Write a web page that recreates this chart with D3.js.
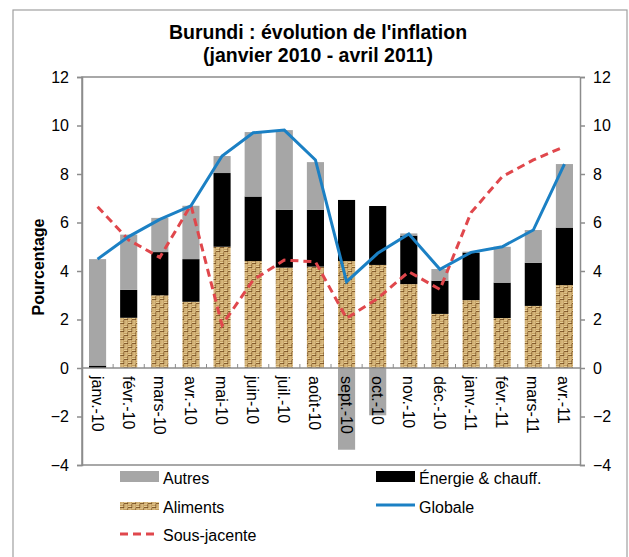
<!DOCTYPE html>
<meta charset="utf-8">
<script src="https://d3js.org/d3.v7.min.js"></script>
<style>
  body { margin: 0; background: #fff; }
  text { font-family: "Liberation Sans", Arial, sans-serif; }
</style>
<div id="chart"></div>
<script>

// data
var months = ["janv.-10", "févr.-10", "mars-10", "avr.-10", "mai-10", "juin-10", "juil.-10", "août-10",
              "sept.-10", "oct.-10", "nov.-10", "déc.-10", "janv.-11", "févr.-11", "mars-11", "avr.-11"];
var aliments = [0, 2.07, 3.0, 2.73, 5.0, 4.41, 4.14, 4.18, 4.41, 4.25, 3.46, 2.23, 2.8, 2.06, 2.56, 3.42];
var energie  = [0.1, 1.15, 1.78, 1.76, 3.04, 2.66, 2.38, 2.34, 2.52, 2.43, 2.0, 1.37, 1.96, 1.46, 1.78, 2.37];
var autres   = [4.39, 2.28, 1.41, 2.2, 0.7, 2.66, 3.29, 1.97, -3.37, -1.95, 0.09, 0.48, 0.04, 1.48, 1.35, 2.62];
var globale  = [4.49, 5.42, 6.13, 6.69, 8.74, 9.7, 9.81, 8.58, 3.56, 4.73, 5.53, 4.07, 4.77, 5.0, 5.69, 8.41];
var sousJacente = [6.65, 5.28, 4.56, 6.72, 1.77, 3.63, 4.45, 4.38, 2.05, 2.87, 3.97, 3.24, 6.41, 7.89, 8.58, 9.13];
var yTicks = [-4, -2, 0, 2, 4, 6, 8, 10, 12];

var W = 629, H = 557;
var plotL = 82, plotR = 580, plotT = 77, plotB = 465;

var svg = d3.select("#chart").append("svg")
  .attr("width", W)
  .attr("height", H);

// burlap-ish texture for "Aliments"
var defs = svg.append("defs");
var pat = defs.append("pattern")
  .attr("id", "burlap")
  .attr("patternUnits", "userSpaceOnUse")
  .attr("width", 8).attr("height", 8);
var light = "#ecd49c", dark = "#70491f";
pat.append("rect").attr("width", 8).attr("height", 8).attr("fill", "#b88e50");
[[0, 0.3, 4, 0.9], [0, 2.1, 4, 0.9], [4.6, 0, 0.9, 4], [6.4, 0, 0.9, 4],
 [4, 4.3, 4, 0.9], [4, 6.1, 4, 0.9], [0.6, 4, 0.9, 4], [2.4, 4, 0.9, 4]].forEach(function(r) {
  pat.append("rect").attr("x", r[0]).attr("y", r[1]).attr("width", r[2]).attr("height", r[3]).attr("fill", light);
});
[[0, 3.3, 4, 0.7], [4, 7.3, 4, 0.7], [3.5, 0, 0.6, 4], [7.5, 4, 0.6, 4]].forEach(function(r) {
  pat.append("rect").attr("x", r[0]).attr("y", r[1]).attr("width", r[2]).attr("height", r[3]).attr("fill", dark);
});

// outer frame
svg.append("rect")
  .attr("x", 13).attr("y", 10)
  .attr("width", 614).attr("height", 560)
  .attr("fill", "none")
  .attr("stroke", "#a0a0a0")
  .attr("stroke-width", 1.2);

// title
svg.append("text")
  .attr("x", 318).attr("y", 39)
  .attr("text-anchor", "middle")
  .attr("font-size", 19.5).attr("font-weight", "bold")
  .text("Burundi : évolution de l'inflation");
svg.append("text")
  .attr("x", 318).attr("y", 62)
  .attr("text-anchor", "middle")
  .attr("font-size", 19.5).attr("font-weight", "bold")
  .text("(janvier 2010 - avril 2011)");

var x = d3.scaleBand()
  .domain(months)
  .range([plotL, plotR])
  .paddingInner(0.45)
  .paddingOuter(0.225);

var y = d3.scaleLinear()
  .domain([-4, 12])
  .range([plotB, plotT]);

// stacked bars
var rows = months.map(function(m, i) {
  return { month: m, aliments: aliments[i], energie: energie[i], autres: autres[i] };
});
var keys = ["aliments", "energie", "autres"];
var fills = { aliments: "url(#burlap)", energie: "#000000", autres: "#a6a6a6" };
var series = d3.stack().keys(keys).offset(d3.stackOffsetDiverging)(rows);

svg.append("g").selectAll("g")
  .data(series)
  .enter().append("g")
    .attr("fill", function(s) { return fills[s.key]; })
  .selectAll("rect")
  .data(function(s) { return s; })
  .enter().append("rect")
    .attr("x", function(d) { return x(d.data.month); })
    .attr("width", x.bandwidth())
    .attr("y", function(d) { return y(Math.max(d[0], d[1])); })
    .attr("height", function(d) { return Math.abs(y(d[0]) - y(d[1])); });

// plot frame (left, top, bottom) + axes
svg.append("path")
  .attr("d", "M" + plotR + "," + plotT + "H" + plotL + "V" + plotB + "H" + plotR)
  .attr("fill", "none")
  .attr("stroke", "#8c8c8c")
  .attr("stroke-width", 1.5);

var yLeft = svg.append("g")
  .attr("transform", "translate(" + plotL + ",0)")
  .call(d3.axisLeft(y).tickValues(yTicks).tickSize(5).tickPadding(8));
var yRight = svg.append("g")
  .attr("transform", "translate(" + plotR + ",0)")
  .call(d3.axisRight(y).tickValues(yTicks).tickSize(5).tickPadding(8));
[yLeft, yRight].forEach(function(g) {
  g.select(".domain").attr("stroke", "#8c8c8c").attr("stroke-width", 1.5);
  g.selectAll(".tick line").attr("stroke", "#8c8c8c").attr("stroke-width", 1.5);
  g.selectAll(".tick text").attr("font-size", 16).attr("fill", "#000")
    .attr("font-family", "Liberation Sans, Arial, sans-serif");
});

// zero axis with small category ticks
var xAxis = svg.append("g")
  .attr("transform", "translate(0," + y(0) + ")");
xAxis.append("line")
  .attr("x1", plotL).attr("x2", plotR)
  .attr("stroke", "#8c8c8c").attr("stroke-width", 1.5);
xAxis.selectAll(".sep")
  .data(months.slice(1))
  .enter().append("line")
    .attr("x1", function(m) { return x(m) - x.step() * x.paddingInner() / 2; })
    .attr("x2", function(m) { return x(m) - x.step() * x.paddingInner() / 2; })
    .attr("y1", 0).attr("y2", -4)
    .attr("stroke", "#8c8c8c").attr("stroke-width", 1);
xAxis.selectAll(".lab")
  .data(months)
  .enter().append("text")
    .attr("transform", function(m) {
      return "translate(" + (x(m) + x.bandwidth() / 2 - 6) + ",8) rotate(90)";
    })
    .attr("font-size", 16)
    .attr("text-anchor", "start")
    .text(function(m) { return m; });

svg.append("text")
  .attr("transform", "translate(44,267) rotate(-90)")
  .attr("text-anchor", "middle")
  .attr("font-size", 16).attr("font-weight", "bold")
  .text("Pourcentage");

// lines
var cx = function(i) { return x(months[i]) + x.bandwidth() / 2; };
var line = d3.line()
  .x(function(d, i) { return cx(i); })
  .y(function(d) { return y(d); });

svg.append("path")
  .attr("d", line(sousJacente))
  .attr("fill", "none")
  .attr("stroke", "#e0474c")
  .attr("stroke-width", 3)
  .attr("stroke-dasharray", "8,5");

svg.append("path")
  .attr("d", line(globale))
  .attr("fill", "none")
  .attr("stroke", "#1b80c4")
  .attr("stroke-width", 3);

// legend
var lg = svg.append("g").attr("font-size", 16);
lg.append("rect").attr("x", 120).attr("y", 471).attr("width", 39).attr("height", 11).attr("fill", "#a6a6a6");
lg.append("text").attr("x", 163).attr("y", 484).text("Autres");
lg.append("rect").attr("x", 120).attr("y", 502).attr("width", 39).attr("height", 8).attr("fill", "url(#burlap)");
lg.append("text").attr("x", 163).attr("y", 513).text("Aliments");
lg.append("line").attr("x1", 120).attr("x2", 159).attr("y1", 534).attr("y2", 534)
  .attr("stroke", "#e0474c").attr("stroke-width", 3).attr("stroke-dasharray", "8,5");
lg.append("text").attr("x", 163).attr("y", 541).text("Sous-jacente");
lg.append("rect").attr("x", 376).attr("y", 471).attr("width", 39).attr("height", 11).attr("fill", "#000");
lg.append("text").attr("x", 419).attr("y", 484).text("Énergie & chauff.");
lg.append("line").attr("x1", 376).attr("x2", 415).attr("y1", 505).attr("y2", 505)
  .attr("stroke", "#1b80c4").attr("stroke-width", 3);
lg.append("text").attr("x", 419).attr("y", 513).text("Globale");

</script>
